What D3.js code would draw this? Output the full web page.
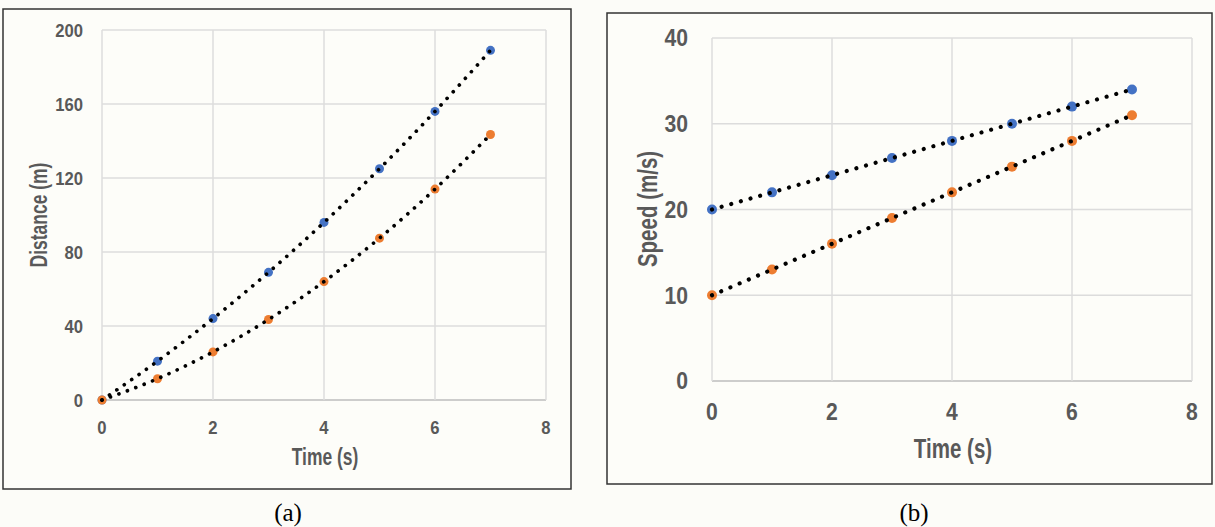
<!DOCTYPE html>
<html><head><meta charset="utf-8">
<script src="https://cdn.jsdelivr.net/npm/d3@7"></script>
<style>
html,body{margin:0;padding:0;background:#fcfcf8;}
svg{display:block;}
.lbl{font-family:"Liberation Sans",Arial,sans-serif;font-weight:bold;fill:#595959;}
.cap{font-family:"Liberation Serif","Times New Roman",serif;fill:#000;}
</style></head>
<body>
<svg id="c" width="1215" height="527"></svg>
<script>
// ---- data ----
const time = [0, 1, 2, 3, 4, 5, 6, 7];
const distanceBlue = [0, 21, 44, 69, 96, 125, 156, 189];
const distanceOrange = [0, 11.5, 26, 43.5, 64, 87.5, 114, 143.5];
const speedBlue = [20, 22, 24, 26, 28, 30, 32, 34];
const speedOrange = [10, 13, 16, 19, 22, 25, 28, 31];
const xTicks = [0, 2, 4, 6, 8];
const distanceTicks = [0, 40, 80, 120, 160, 200];
const speedTicks = [0, 10, 20, 30, 40];
const xLabel = "Time (s)";
const distanceLabel = "Distance (m)";
const speedLabel = "Speed (m/s)";
const captions = ["(a)", "(b)"];

const BLUE = "#4472C4", ORANGE = "#ED7D31";
const svg = d3.select("#c");

function narrowText(g, x, y, txt, fs, sx, anchor, rot) {
  return g.append("text").attr("class", "lbl")
    .attr("transform", `translate(${x},${y})${rot ? " rotate(-90)" : ""} scale(${sx},1)`)
    .attr("dy", "0.36em").attr("text-anchor", anchor).attr("font-size", fs).text(txt);
}

function panel(o) {
  const g = svg.append("g");
  // frame
  g.append("rect").attr("x", o.frame[0]).attr("y", o.frame[1])
    .attr("width", o.frame[2] - o.frame[0]).attr("height", o.frame[3] - o.frame[1])
    .attr("fill", "#fdfdf9").attr("stroke", "#333").attr("stroke-width", 1.5);
  const x = d3.scaleLinear().domain([0, 8]).range(o.xr);
  const y = d3.scaleLinear().domain(o.yd).range(o.yr);
  // gridlines
  g.selectAll(".hg").data(o.yTicks).join("line")
    .attr("x1", o.xr[0]).attr("x2", o.xr[1])
    .attr("y1", d => y(d)).attr("y2", d => y(d))
    .attr("stroke", d => d === 0 ? "#bdbdbd" : "#dcdcdc").attr("stroke-width", 1.5);
  g.selectAll(".vg").data(xTicks).join("line")
    .attr("y1", o.yr[0]).attr("y2", o.yr[1])
    .attr("x1", d => x(d)).attr("x2", d => x(d))
    .attr("stroke", "#dcdcdc").attr("stroke-width", 1.5);
  // tick labels
  o.yTicks.forEach(d => narrowText(g, o.yLabX, y(d), d, o.fs, 0.9, "end"));
  xTicks.forEach(d => narrowText(g, x(d), o.xLabY, d, o.fs, 0.9, "middle"));
  // axis titles
  narrowText(g, o.xTitle[0], o.xTitle[1], xLabel, o.tfs, 0.76, "middle");
  narrowText(g, o.yTitle[0], o.yTitle[1], o.yLabel, o.tfs, 0.76, "middle", true);
  // markers
  o.series.forEach(s => {
    g.selectAll(null).data(time).join("circle")
      .attr("cx", (d) => x(d)).attr("cy", (d, i) => y(s.v[i]))
      .attr("r", o.r).attr("fill", s.c);
  });
  // dotted trendlines
  const line = d3.line().x(d => x(d[0])).y(d => y(d[1])).curve(d3.curveMonotoneX);
  o.series.forEach(s => {
    g.append("path").datum(time.map((t, i) => [t, s.v[i]]))
      .attr("d", line).attr("fill", "none").attr("stroke", "#000")
      .attr("stroke-width", o.dot).attr("stroke-linecap", "round")
      .attr("stroke-dasharray", `0.01 ${o.gap}`);
  });
  svg.append("text").attr("class", "cap").attr("x", o.cap[0]).attr("y", o.cap[1])
    .attr("text-anchor", "middle").attr("font-size", 25).text(o.capText);
}

panel({
  frame: [3, 9, 571, 489], xr: [102, 546], yd: [0, 200], yr: [400, 30],
  yTicks: distanceTicks, yLabel: distanceLabel, fs: 18.5, tfs: 23, yLabX: 83, xLabY: 427,
  xTitle: [325, 457], yTitle: [39, 215], r: 4.5, dot: 3.7, gap: 9,
  series: [{v: distanceBlue, c: BLUE}, {v: distanceOrange, c: ORANGE}],
  cap: [288, 521], capText: captions[0]
});
panel({
  frame: [607, 13, 1212, 484], xr: [712, 1192], yd: [0, 40], yr: [381, 38],
  yTicks: speedTicks, yLabel: speedLabel, fs: 23.5, tfs: 27, yLabX: 688, xLabY: 412,
  xTitle: [953, 448], yTitle: [647, 209], r: 5, dot: 4.2, gap: 10,
  series: [{v: speedBlue, c: BLUE}, {v: speedOrange, c: ORANGE}],
  cap: [914, 521], capText: captions[1]
});
</script>
</body></html>
